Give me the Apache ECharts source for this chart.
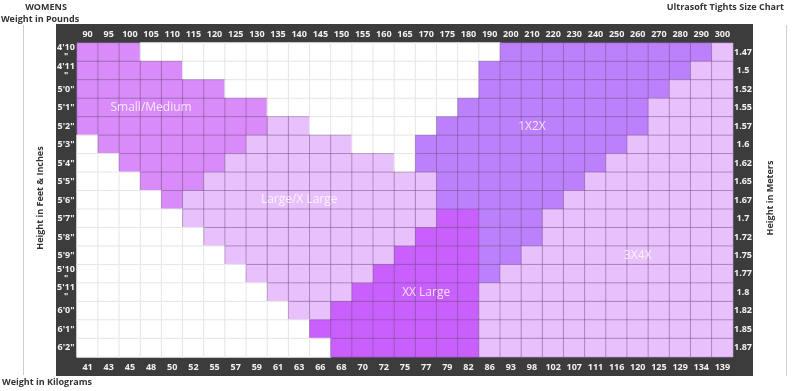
<!DOCTYPE html>
<html><head><meta charset="utf-8">
<script src="https://cdn.jsdelivr.net/npm/echarts@6/dist/echarts.min.js"></script>
<style>html,body{margin:0;padding:0;background:#fff}#c{width:800px;height:391px}</style>
</head><body><div id="c"></div>
<script>
// ---- data ----
const weightLbs = ['90','95','100','105','110','115','120','125','130','135','140','145','150','155','160','165','170','175','180','190','200','210','220','230','240','250','260','270','280','290','300'];
const weightKg = ['41','43','45','48','50','52','55','57','59','61','63','66','68','70','72','75','77','79','82','86','93','98','102','107','111','116','120','125','129','134','139'];
const heightFtIn = ['4\'10"','4\'11"','5\'0"','5\'1"','5\'2"','5\'3"','5\'4"','5\'5"','5\'6"','5\'7"','5\'8"','5\'9"','5\'10"','5\'11"','6\'0"','6\'1"','6\'2"'];
const heightM = ['1.47','1.5','1.52','1.55','1.57','1.6','1.62','1.65','1.67','1.7','1.72','1.75','1.77','1.8','1.82','1.85','1.87'];
const sizeNames = ['Small/Medium','Large/X Large','1X2X','XX Large','3X4X'];
// [heightRow, fromWeightCol, toWeightCol]
const smallMedium = [[0,0,2],[1,0,4],[2,0,6],[3,0,8],[4,0,8],[5,1,7],[6,2,6],[7,3,5],[8,4,4]];
const largeXLarge = [[4,9,10],[5,8,12],[6,7,14],[7,6,16],[8,5,16],[9,5,16],[10,6,15],[11,7,14],[12,8,13],[13,9,12],[14,10,11]];
const oneTwoX = [[0,20,29],[1,19,28],[2,19,27],[3,18,26],[4,17,26],[5,16,25],[6,16,24],[7,17,23],[8,17,22],[9,19,21],[10,19,21],[11,19,20],[12,19,19]];
const xxLarge = [[9,17,18],[10,16,18],[11,15,18],[12,14,18],[13,13,18],[14,12,18],[15,11,18],[16,12,18]];
const threeFourX = [[0,30,30],[1,29,30],[2,28,30],[3,27,30],[4,27,30],[5,26,30],[6,25,30],[7,24,30],[8,23,30],[9,22,30],[10,22,30],[11,21,30],[12,20,30],[13,19,30],[14,19,30],[15,19,30],[16,19,30]];
// cell [weightCol, heightRow] where each size name sits
const sizeLabelCells = [[3,3],[10,8],[21,4],[16,13],[26,11]];

// ---- styles ----
const sizeColors = ['#d88bf9','#e8c1fc','#bd80fd','#c95ffd','#e8c1fc'];
const sizeRanges = [smallMedium, largeXLarge, oneTwoX, xxLarge, threeFourX];

const cellSize = {};
sizeRanges.forEach((ranges, s) => ranges.forEach(([r, a, b]) => {
  for (let c = a; c <= b; c++) cellSize[c + '_' + r] = s;
}));
const cells = [];
for (let r = 0; r < heightFtIn.length; r++) {
  for (let c = 0; c < weightLbs.length; c++) {
    const s = cellSize[c + '_' + r];
    cells.push({
      value: [c, r, s === undefined ? -1 : s],
      itemStyle: s === undefined
        ? { color: '#ffffff', borderColor: '#e6e6e6', borderWidth: 1 }
        : { color: sizeColors[s], borderColor: 'rgba(110,80,125,0.45)', borderWidth: 1 }
    });
  }
}
const labelData = sizeLabelCells.map((p, i) => ({ value: p, name: sizeNames[i] }));

const FONT = '"Open Sans", "Noto Sans", sans-serif';
const tickLbl = { color: '#f2f2f2', fontSize: 9, fontWeight: 'bold', fontFamily: FONT };

const chart = echarts.init(document.getElementById('c'), null, { renderer: 'canvas' });
chart.setOption({
  animation: false,
  backgroundColor: '#ffffff',
  grid: { left: 77, top: 43, width: 656, height: 314, show: false },
  graphic: [
    { type: 'rect', z: -10, silent: true, shape: { x: 56, y: 24, width: 697, height: 352 }, style: { fill: '#3c3c3c' } },
    { type: 'line', silent: true, shape: { x1: 23.5, y1: 25, x2: 23.5, y2: 375 }, style: { stroke: '#cfcfcf', lineWidth: 1 } },
    { type: 'line', silent: true, shape: { x1: 786.5, y1: 25, x2: 786.5, y2: 376 }, style: { stroke: '#cfcfcf', lineWidth: 1 } },
    { type: 'text', silent: true, x: 46, y: 7, style: { text: 'WOMENS', fill: '#333', font: 'bold 9px ' + FONT, align: 'center', verticalAlign: 'middle' } },
    { type: 'text', silent: true, x: 40, y: 19, style: { text: 'Weight in Pounds', fill: '#333', font: 'bold 9px ' + FONT, align: 'center', verticalAlign: 'middle' } },
    { type: 'text', silent: true, x: 784, y: 7, style: { text: 'Ultrasoft Tights Size Chart', fill: '#333', font: 'bold 9px ' + FONT, align: 'right', verticalAlign: 'middle' } },
    { type: 'text', silent: true, x: 2, y: 382, style: { text: 'Weight in Kilograms', fill: '#333', font: 'bold 9px ' + FONT, align: 'left', verticalAlign: 'middle' } },
    { type: 'text', silent: true, x: 40, y: 198, rotation: Math.PI / 2, style: { text: 'Height in Feet & Inches', fill: '#333', font: 'bold 9px ' + FONT, align: 'center', verticalAlign: 'middle' } },
    { type: 'text', silent: true, x: 770, y: 198, rotation: Math.PI / 2, style: { text: 'Height in Meters', fill: '#333', font: 'bold 9px ' + FONT, align: 'center', verticalAlign: 'middle' } }
  ],
  xAxis: [
    { type: 'category', position: 'top', data: weightLbs, axisLine: { show: false }, axisTick: { show: false }, splitLine: { show: false },
      axisLabel: Object.assign({ interval: 0, margin: 9, verticalAlign: 'middle' }, tickLbl) },
    { type: 'category', position: 'bottom', data: weightKg, axisLine: { show: false }, axisTick: { show: false }, splitLine: { show: false },
      axisLabel: Object.assign({ interval: 0, margin: 10, verticalAlign: 'middle' }, tickLbl) }
  ],
  yAxis: [
    { type: 'category', position: 'left', inverse: true, data: heightFtIn, axisLine: { show: false }, axisTick: { show: false }, splitLine: { show: false },
      axisLabel: Object.assign({ interval: 0, margin: 11, align: 'center', lineHeight: 9,
        formatter: v => v.length > 4 ? v.slice(0, 4) + '\n' + v.slice(4) : v }, tickLbl) },
    { type: 'category', position: 'right', inverse: true, data: heightM, axisLine: { show: false }, axisTick: { show: false }, splitLine: { show: false },
      axisLabel: Object.assign({ interval: 0, margin: 10, align: 'center' }, tickLbl) }
  ],
  series: [
    { type: 'heatmap', xAxisIndex: 0, yAxisIndex: 0, data: cells, silent: true, emphasis: { disabled: true } },
    { type: 'scatter', xAxisIndex: 0, yAxisIndex: 0, data: labelData, symbolSize: 1, itemStyle: { color: 'rgba(0,0,0,0)' }, silent: true, z: 5,
      label: { show: true, position: 'inside', formatter: p => p.name, color: '#ffffff', fontSize: 12, fontFamily: FONT } }
  ]
});
</script></body></html>
